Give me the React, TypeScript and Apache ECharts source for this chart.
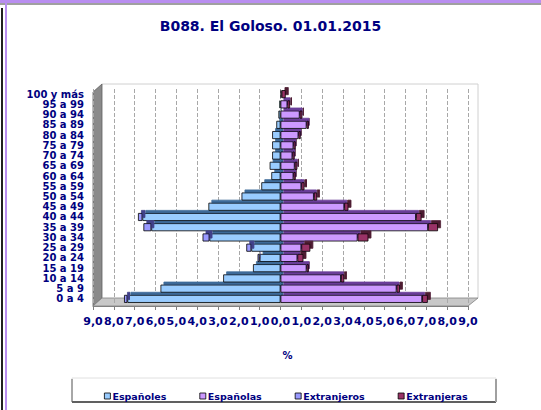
import React, { useEffect, useRef } from "react";
import * as echarts from "echarts";

const categories = [
  "0 a 4", "5 a 9", "10 a 14", "15 a 19", "20 a 24", "25 a 29", "30 a 34",
  "35 a 39", "40 a 44", "45 a 49", "50 a 54", "55 a 59", "60 a 64", "65 a 69",
  "70 a 74", "75 a 79", "80 a 84", "85 a 89", "90 a 94", "95 a 99", "100 y más",
];
const espanoles = [7.35, 5.76, 2.75, 1.32, 1.0, 1.4, 3.41, 6.2, 6.63, 3.46, 1.87, 0.92, 0.44, 0.52, 0.4, 0.4, 0.4, 0.2, 0.1, 0.05, 0.0];
const extranjeros = [0.16, 0.03, 0.03, 0.03, 0.1, 0.24, 0.33, 0.38, 0.21, 0.03, 0.02, 0.02, 0.0, 0.0, 0.0, 0.0, 0.0, 0.0, 0.0, 0.0, 0.0];
const espanolas = [6.8, 5.57, 2.9, 1.25, 0.81, 1.0, 3.7, 7.08, 6.5, 3.06, 1.6, 1.0, 0.62, 0.68, 0.57, 0.62, 0.86, 1.25, 0.92, 0.33, 0.05];
const extranjeras = [0.27, 0.16, 0.16, 0.11, 0.29, 0.43, 0.52, 0.48, 0.27, 0.2, 0.16, 0.15, 0.11, 0.13, 0.11, 0.11, 0.11, 0.11, 0.13, 0.13, 0.2];

const NAVY = "#000080";
const FONT = "DejaVu Sans";

export default function App() {
  const ref = useRef<HTMLDivElement>(null);
  useEffect(() => {
    const chart = echarts.init(ref.current!, undefined, { renderer: "svg" });
    const mkBar = (name: string, data: number[], stack: string, color: string, depth: string) => ({
      name,
      type: "bar",
      stack,
      data,
      barWidth: 8,
      barGap: "-100%",
      z: 3,
      itemStyle: {
        color,
        borderColor: "#000",
        borderWidth: 0.8,
        shadowColor: depth,
        shadowOffsetX: 3,
        shadowOffsetY: -3,
        shadowBlur: 0,
      },
      emphasis: { disabled: true },
    });
    chart.setOption({
      animation: false,
      backgroundColor: "#ffffff",
      title: {
        text: "B088. El Goloso. 01.01.2015",
        left: "center",
        top: 14,
        textStyle: { fontFamily: FONT, fontWeight: "bold", fontSize: 14, color: NAVY },
      },
      legend: {
        left: 99,
        top: 386,
        itemWidth: 6,
        itemHeight: 6,
        itemGap: 33,
        icon: "rect",
        data: ["Españoles", "Españolas", "Extranjeros", "Extranjeras"],
        textStyle: { fontFamily: FONT, fontWeight: "bold", fontSize: 9.5, color: NAVY, padding: [0, 0, 0, -3] },
        itemStyle: { borderColor: "#000", borderWidth: 0.8 },
      },
      grid: { left: 93, right: 73, top: 89, bottom: 106 },
      xAxis: {
        type: "value",
        min: -9,
        max: 9,
        interval: 1,
        offset: 2,
        axisLine: { show: true, lineStyle: { color: "#808080" } },
        axisTick: { show: true, length: 4, lineStyle: { color: "#808080" } },
        splitLine: { show: true, lineStyle: { color: "#a8a8a8", type: "dashed", width: 1 } },
        axisLabel: {
          margin: 10,
          fontFamily: FONT,
          fontWeight: "bold",
          fontSize: 11,
          color: NAVY,
          formatter: (v: number) => Math.abs(v).toFixed(1).replace(".", ","),
        },
        name: "%",
        nameLocation: "middle",
        nameGap: 44,
        nameTextStyle: { fontFamily: FONT, fontWeight: "bold", fontSize: 10, color: NAVY, padding: [0, 0, 0, 14] },
      },
      yAxis: {
        type: "category",
        data: categories,
        axisLine: { show: false },
        axisTick: { show: false },
        axisLabel: {
          margin: 9,
          fontFamily: FONT,
          fontWeight: "bold",
          fontSize: 10,
          color: NAVY,
          interval: 0,
        },
      },
      graphic: [
        // frame
        { type: "rect", shape: { x: 0, y: 0, width: 541, height: 3 }, style: { fill: "#b98ef0" }, silent: true },
        { type: "rect", shape: { x: 0, y: 3, width: 541, height: 2 }, style: { fill: "#a0a0a0" }, silent: true },
        { type: "rect", shape: { x: 5, y: 0, width: 2, height: 410 }, style: { fill: "#b98ef0" }, silent: true },
        { type: "rect", shape: { x: 1, y: 8, width: 2, height: 402 }, style: { fill: "#202020" }, silent: true },
        // back wall border
        { type: "polyline", shape: { points: [[102, 84], [478, 84], [478, 298]] }, style: { stroke: "#d0d0d0", fill: null, lineWidth: 1 }, silent: true, z: -1 },
        // left wall
        { type: "polygon", shape: { points: [[93, 306], [102, 298], [102, 84], [93, 92]] }, style: { fill: "#8a8a8a", stroke: "#606060", lineWidth: 0.8 }, silent: true, z: -1 },
        // floor
        { type: "polygon", shape: { points: [[93, 306], [468, 306], [478, 298], [102, 298]] }, style: { fill: "#c8c8c8", stroke: "#808080", lineWidth: 0.8 }, silent: true, z: -1 },
        // legend box
        { type: "rect", shape: { x: 72, y: 378, width: 424, height: 24 }, style: { fill: "#ffffff", stroke: "#e0e0e0", lineWidth: 1 }, silent: true, z: -2 },
        { type: "line", shape: { x1: 72, y1: 379, x2: 72, y2: 402 }, style: { stroke: "#606060", lineWidth: 1 }, silent: true, z: -1 },
        { type: "line", shape: { x1: 72, y1: 402, x2: 496, y2: 402 }, style: { stroke: "#606060", lineWidth: 2 }, silent: true, z: -1 },
        { type: "line", shape: { x1: 496, y1: 379, x2: 496, y2: 402 }, style: { stroke: "#a0a0a0", lineWidth: 2 }, silent: true, z: -1 },
      ],
      series: [
        mkBar("Españoles", espanoles.map((v) => -v), "left", "#99ccff", "#3d6a99"),
        mkBar("Españolas", espanolas, "right", "#cc99ff", "#6a3d99"),
        mkBar("Extranjeros", extranjeros.map((v) => -v), "left", "#9999ff", "#40408a"),
        mkBar("Extranjeras", extranjeras, "right", "#993366", "#4d1a33"),
      ],
    });
    return () => chart.dispose();
  }, []);
  return <div ref={ref} style={{ position: "fixed", left: 0, top: 0, width: 541, height: 410 }} />;
}
